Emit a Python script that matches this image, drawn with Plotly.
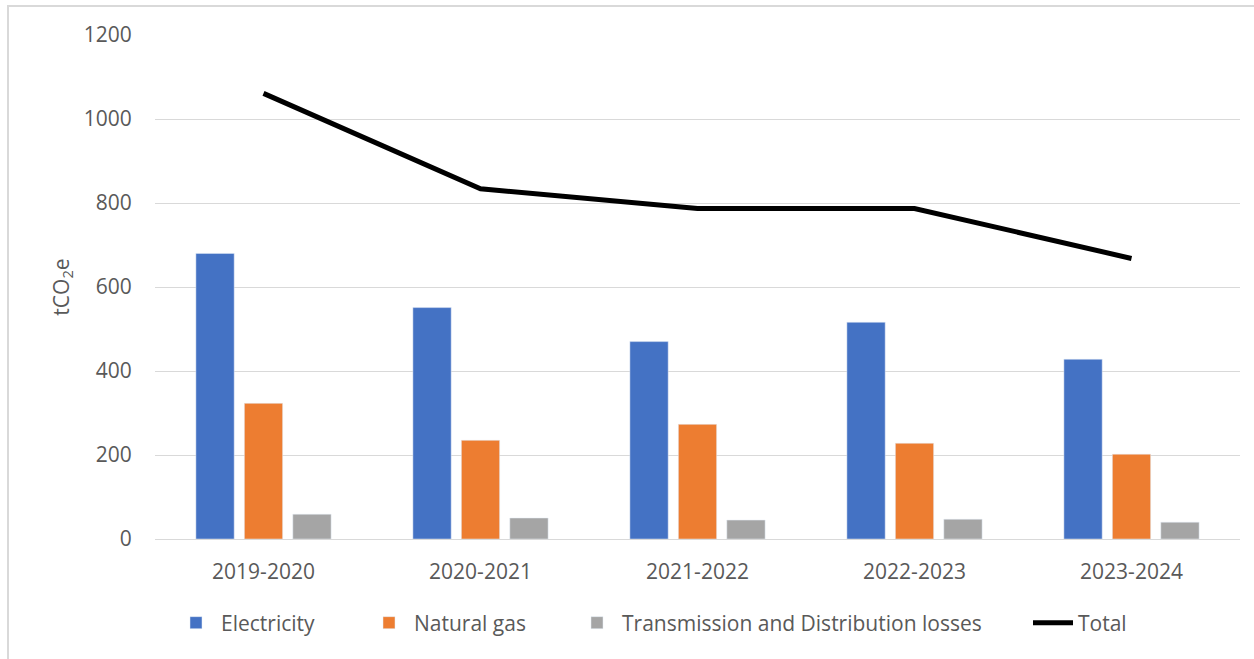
import plotly.graph_objects as go

# Emissions by source, tCO2e
years = ["2019-2020", "2020-2021", "2021-2022", "2022-2023", "2023-2024"]
electricity = [680, 551, 470, 516, 428]
natural_gas = [323, 235, 273, 228, 202]
td_losses = [59, 50, 45, 47, 40]
total = [1061, 834, 787, 787, 668]

y_ticks = [0, 200, 400, 600, 800, 1000, 1200]

FONT = "Open Sans"
TEXT = "#595959"
GRID = "#D9D9D9"
FS = 21

W, H = 1254, 659
L, R, T, B = 155, 14, 35, 120
plot_w = W - L - R
plot_h = H - T - B


def px_x(px):
    return (px - L) / plot_w


def px_y(py):
    return (H - B - py) / plot_h


fig = go.Figure()
fig.add_trace(go.Bar(name="Electricity", x=years, y=electricity, marker_color="#4472C4",
                     legend="legend"))
fig.add_trace(go.Bar(name="Natural gas", x=years, y=natural_gas, marker_color="#ED7D31",
                     legend="legend2"))
fig.add_trace(go.Bar(name="Transmission and Distribution losses", x=years, y=td_losses,
                     marker_color="#A5A5A5", legend="legend3"))
fig.add_trace(go.Scatter(name="Total", x=years, y=total, mode="lines",
                         line=dict(color="black", width=5), legend="legend4"))

# light frame around the chart area
fig.add_shape(type="rect", xref="paper", yref="paper",
              x0=px_x(8), x1=px_x(W + 10), y0=px_y(H + 10), y1=px_y(6),
              line=dict(color=GRID, width=2), fillcolor="rgba(0,0,0,0)", layer="below")


def legend_at(px):
    return dict(orientation="h", x=px_x(px), xanchor="left",
                y=px_y(623), yanchor="middle",
                font=dict(family=FONT, size=FS, color=TEXT),
                itemwidth=40, bgcolor="rgba(0,0,0,0)")


fig.update_layout(
    width=W, height=H,
    margin=dict(l=L, r=R, t=T, b=B),
    paper_bgcolor="white", plot_bgcolor="white",
    font=dict(family=FONT, size=FS, color=TEXT),
    barmode="group", bargap=0.33, bargroupgap=0.21,
    showlegend=True,
    legend=legend_at(171),
    legend2=legend_at(364),
    legend3=legend_at(572),
    legend4=legend_at(1028),
    xaxis=dict(showgrid=False, showline=False, zeroline=False,
               ticks="outside", ticklen=14, tickcolor="rgba(0,0,0,0)",
               tickfont=dict(family=FONT, size=FS, color=TEXT)),
    yaxis=dict(range=[0, 1200], tickvals=y_ticks, showgrid=True, gridcolor=GRID,
               gridwidth=1, zeroline=True, zerolinecolor=GRID, zerolinewidth=1,
               showline=False, ticks="outside", ticklen=18, tickcolor="rgba(0,0,0,0)",
               tickfont=dict(family=FONT, size=FS, color=TEXT),
               title=dict(text="tCO<sub>2</sub>e", standoff=8,
                          font=dict(family=FONT, size=FS, color=TEXT))),
)

fig.write_html("out.html")
